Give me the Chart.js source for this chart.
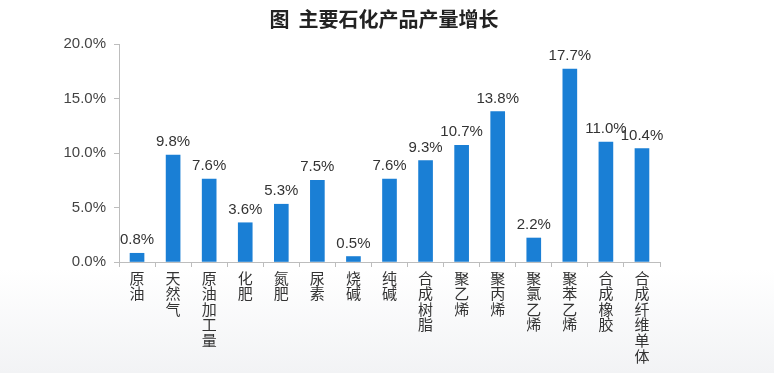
<!DOCTYPE html>
<html>
<head>
<meta charset="utf-8">
<script src="https://cdn.jsdelivr.net/npm/chart.js@4"></script>
<style>
  html, body { margin: 0; padding: 0; }
  body { width: 774px; height: 373px; background: linear-gradient(180deg, #ffffff 0%, #ffffff 72%, #f2f3f5 100%); }
  #wrap { width: 774px; height: 373px; position: relative; }
</style>
</head>
<body>
<div id="wrap"><canvas id="chart" width="774" height="373"></canvas></div>
<script>
// categories and values (%)
const products = ['原油', '天然气', '原油加工量', '化肥', '氮肥', '尿素', '烧碱', '纯碱', '合成树脂', '聚乙烯', '聚丙烯', '聚氯乙烯', '聚苯乙烯', '合成橡胶', '合成纤维单体'];
const growth = [0.8, 9.8, 7.6, 3.6, 5.3, 7.5, 0.5, 7.6, 9.3, 10.7, 13.8, 2.2, 17.7, 11.0, 10.4];
const yTicks = [0, 5, 10, 15, 20];
const chartTitle = '图  主要石化产品产量增长';

const latin = '"Liberation Sans", Arial, "Noto Sans CJK SC", sans-serif';
const cjk = '"Noto Sans CJK SC", "Liberation Sans", sans-serif';

// title drawn centred on the canvas
const titlePlugin = {
  id: 'centerTitle',
  afterDraw(chart) {
    const ctx = chart.ctx;
    ctx.save();
    ctx.font = 'bold 20px ' + cjk;
    ctx.fillStyle = '#222';
    ctx.textAlign = 'center';
    ctx.textBaseline = 'middle';
    ctx.fillText(chartTitle, 384, 19);
    ctx.restore();
  }
};

// value labels above bars
const valueLabels = {
  id: 'valueLabels',
  afterDatasetsDraw(chart) {
    const ctx = chart.ctx;
    const meta = chart.getDatasetMeta(0);
    ctx.save();
    ctx.font = '15px ' + latin;
    ctx.fillStyle = '#333';
    ctx.textAlign = 'center';
    ctx.textBaseline = 'alphabetic';
    meta.data.forEach((bar, i) => {
      ctx.fillText(growth[i].toFixed(1) + '%', bar.x, bar.y - 9);
    });
    ctx.restore();
  }
};

new Chart(document.getElementById('chart').getContext('2d'), {
  type: 'bar',
  data: {
    labels: products.map(p => p.split('')),
    datasets: [{
      data: growth,
      backgroundColor: '#1a7fd5',
      barThickness: 14
    }]
  },
  options: {
    responsive: false,
    animation: false,
    layout: { padding: { top: 44, right: 114, bottom: 0, left: 0 } },
    plugins: { legend: { display: false }, tooltip: { enabled: false }, title: { display: false } },
    scales: {
      x: {
        grid: { display: true, drawOnChartArea: false, offset: true, tickLength: 5, color: '#bdbdbd' },
        border: { color: '#bdbdbd' },
        ticks: {
          autoSkip: false, maxRotation: 0, minRotation: 0, padding: 3,
          color: '#333',
          font: { family: cjk, size: 15, lineHeight: 1.04 }
        },
        afterFit(scale) { scale.height = 111; }
      },
      y: {
        min: yTicks[0], max: yTicks[yTicks.length - 1],
        grid: { display: true, drawOnChartArea: false, tickLength: 5, color: '#bdbdbd' },
        border: { color: '#bdbdbd' },
        afterBuildTicks(scale) { scale.ticks = yTicks.map(v => ({ value: v })); },
        ticks: {
          color: '#444', padding: 8,
          font: { family: latin, size: 15 },
          callback: v => v.toFixed(1) + '%'
        },
        afterFit(scale) { scale.width = 119; }
      }
    }
  },
  plugins: [titlePlugin, valueLabels]
});
</script>
</body>
</html>
